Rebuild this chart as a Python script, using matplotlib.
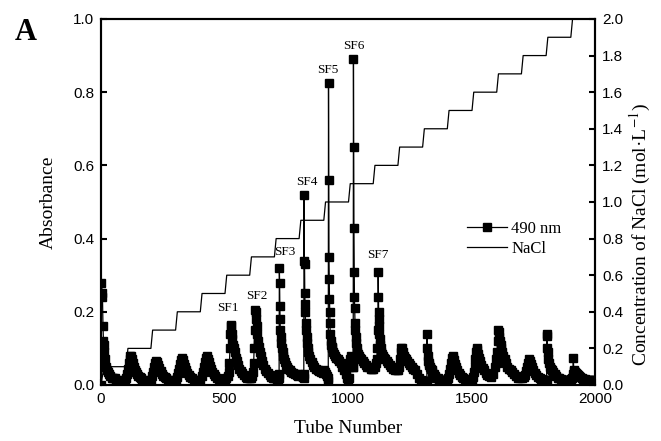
import matplotlib
matplotlib.use("Agg")
import matplotlib.pyplot as plt
from matplotlib.lines import Line2D

# ---------------- data ----------------
# Absorbance at 490 nm, one line per eluted fraction window
tubes = (
    [0, 2, 4, 6, 8, 10, 12, 14, 17, 20, 24, 28, 33, 38, 44, 50, 56, 62, 68, 74, 80, 86, 92, 98]
    + [102, 106, 110, 113, 116, 119, 122, 125, 128, 132, 136, 140, 145, 150, 156, 162, 168, 175, 182, 190, 198]
    + [202, 207, 212, 216, 220, 224, 228, 232, 236, 241, 246, 252, 258, 265, 272, 280, 288, 296]
    + [302, 307, 312, 316, 320, 324, 328, 332, 336, 340, 345, 350, 356, 362, 369, 376, 384, 392, 398]
    + [402, 407, 412, 416, 420, 424, 428, 432, 436, 440, 445, 450, 456, 462, 469, 476, 484, 492, 498]
    + [503, 508, 513, 517, 520, 522, 524, 526, 528, 530, 532, 535, 538, 541, 545, 549, 554, 559, 565, 571, 578, 585, 592, 599]
    + [603, 608, 612, 615, 618, 620, 622, 624, 626, 628, 630, 633, 636, 639, 643, 647, 652, 657, 663, 669, 676, 683, 690, 697]
    + [702, 707, 712, 716, 719, 721, 722, 723, 724, 725, 726, 728, 730, 732, 735, 738, 741, 745, 749, 754, 759, 765, 771, 778, 785, 792, 799]
    + [803, 808, 813, 817, 820, 821, 822, 823, 824, 825, 826, 827, 828, 830, 832, 834, 837, 840, 844, 848, 853, 858, 864, 870, 877, 884, 891, 898]
    + [902, 907, 912, 916, 919, 920, 921, 922, 923, 924, 925, 926, 927, 928, 930, 932, 934, 937, 940, 944, 948, 953, 958, 964, 970, 977, 984, 990, 995, 999]
    + [1002, 1006, 1010, 1014, 1018, 1020, 1021, 1022, 1023, 1024, 1025, 1026, 1027, 1028, 1029, 1031, 1033, 1035, 1038, 1041, 1045, 1049, 1054, 1059, 1065, 1071, 1078, 1085, 1092, 1099]
    + [1103, 1108, 1112, 1116, 1119, 1121, 1122, 1123, 1124, 1125, 1126, 1127, 1128, 1130, 1132, 1135, 1138, 1142, 1146, 1151, 1156, 1162, 1168, 1175, 1182, 1190, 1198]
    + [1202, 1206, 1210, 1213, 1216, 1219, 1222, 1226, 1230, 1235, 1240, 1246, 1252, 1258, 1265, 1272, 1280, 1288, 1296]
    + [1300, 1305, 1310, 1314, 1317, 1319, 1320, 1321, 1322, 1324, 1326, 1328, 1331, 1334, 1338, 1342, 1347, 1352, 1358, 1364, 1370, 1377, 1384, 1391, 1398]
    + [1402, 1406, 1410, 1414, 1418, 1421, 1424, 1427, 1430, 1434, 1438, 1443, 1448, 1454, 1460, 1467, 1474, 1482, 1490, 1497]
    + [1501, 1505, 1509, 1513, 1516, 1519, 1521, 1524, 1527, 1531, 1535, 1540, 1545, 1551, 1557, 1564, 1571, 1578, 1586, 1594, 1600]
    + [1602, 1604, 1606, 1608, 1610, 1612, 1615, 1618, 1621, 1625, 1629, 1634, 1639, 1645, 1651, 1658, 1665, 1672, 1680, 1688, 1696, 1704, 1712]
    + [1716, 1720, 1724, 1728, 1732, 1736, 1740, 1745, 1750, 1756, 1762, 1769, 1776, 1783, 1790, 1796, 1800]
    + [1803, 1804, 1805, 1806, 1807, 1808, 1810, 1813, 1816, 1820, 1825, 1830, 1836, 1842, 1849, 1856, 1864, 1872, 1880, 1888, 1896]
    + [1900, 1904, 1908, 1910, 1912, 1914, 1916, 1919, 1922, 1926, 1930, 1935, 1940, 1946, 1952, 1958, 1965, 1972, 1979, 1986, 1993, 1999]
)
absorbance = (
    [0.0, 0.28, 0.25, 0.24, 0.16, 0.12, 0.11, 0.09, 0.07, 0.05, 0.04, 0.035, 0.03, 0.025, 0.02, 0.02, 0.018, 0.015, 0.015, 0.012, 0.012, 0.012, 0.012, 0.015]
    + [0.02, 0.03, 0.045, 0.06, 0.072, 0.08, 0.078, 0.07, 0.06, 0.05, 0.042, 0.036, 0.03, 0.025, 0.021, 0.018, 0.015, 0.013, 0.012, 0.012, 0.012]
    + [0.015, 0.025, 0.035, 0.048, 0.06, 0.066, 0.062, 0.055, 0.046, 0.038, 0.031, 0.025, 0.021, 0.018, 0.015, 0.013, 0.012, 0.012]
    + [0.015, 0.022, 0.032, 0.045, 0.058, 0.068, 0.074, 0.068, 0.058, 0.048, 0.04, 0.033, 0.027, 0.022, 0.018, 0.015, 0.013, 0.012, 0.012]
    + [0.015, 0.025, 0.035, 0.05, 0.062, 0.073, 0.08, 0.072, 0.062, 0.052, 0.043, 0.036, 0.03, 0.025, 0.02, 0.017, 0.015, 0.014, 0.014]
    + [0.015, 0.02, 0.025, 0.035, 0.06, 0.1, 0.14, 0.165, 0.16, 0.14, 0.125, 0.11, 0.1, 0.09, 0.075, 0.065, 0.055, 0.045, 0.038, 0.032, 0.027, 0.022, 0.02, 0.018]
    + [0.018, 0.02, 0.025, 0.035, 0.06, 0.1, 0.15, 0.205, 0.2, 0.18, 0.16, 0.14, 0.12, 0.105, 0.09, 0.078, 0.065, 0.055, 0.045, 0.038, 0.032, 0.027, 0.022, 0.02]
    + [0.02, 0.018, 0.016, 0.015, 0.02, 0.03, 0.32, 0.28, 0.215, 0.18, 0.15, 0.13, 0.115, 0.1, 0.09, 0.08, 0.07, 0.062, 0.055, 0.05, 0.045, 0.04, 0.035, 0.032, 0.03, 0.028, 0.025]
    + [0.03, 0.028, 0.025, 0.022, 0.02, 0.03, 0.52, 0.34, 0.33, 0.25, 0.22, 0.2, 0.17, 0.15, 0.13, 0.115, 0.1, 0.09, 0.08, 0.07, 0.062, 0.055, 0.05, 0.045, 0.04, 0.038, 0.035, 0.032]
    + [0.04, 0.035, 0.03, 0.025, 0.02, 0.01, 0.825, 0.56, 0.35, 0.29, 0.235, 0.2, 0.17, 0.14, 0.12, 0.11, 0.105, 0.1, 0.09, 0.085, 0.08, 0.075, 0.07, 0.065, 0.06, 0.05, 0.04, 0.03, 0.02, 0.0]
    + [0.02, 0.05, 0.07, 0.08, 0.06, 0.05, 0.05, 0.89, 0.65, 0.43, 0.31, 0.24, 0.21, 0.17, 0.15, 0.13, 0.115, 0.1, 0.09, 0.085, 0.08, 0.075, 0.07, 0.065, 0.06, 0.055, 0.05, 0.05, 0.045, 0.045]
    + [0.045, 0.05, 0.06, 0.07, 0.1, 0.15, 0.31, 0.24, 0.2, 0.18, 0.16, 0.14, 0.125, 0.11, 0.1, 0.09, 0.085, 0.08, 0.075, 0.07, 0.065, 0.06, 0.055, 0.05, 0.045, 0.04, 0.04]
    + [0.04, 0.05, 0.07, 0.09, 0.1, 0.1, 0.09, 0.08, 0.075, 0.07, 0.065, 0.06, 0.055, 0.05, 0.045, 0.04, 0.03, 0.02, 0.015]
    + [0.012, 0.012, 0.012, 0.012, 0.012, 0.012, 0.14, 0.1, 0.08, 0.065, 0.06, 0.055, 0.05, 0.045, 0.04, 0.035, 0.03, 0.025, 0.02, 0.018, 0.015, 0.015, 0.014, 0.014, 0.014]
    + [0.015, 0.02, 0.03, 0.045, 0.06, 0.075, 0.08, 0.075, 0.068, 0.058, 0.048, 0.04, 0.034, 0.028, 0.023, 0.019, 0.016, 0.015, 0.014, 0.014]
    + [0.015, 0.022, 0.035, 0.05, 0.07, 0.09, 0.1, 0.095, 0.085, 0.075, 0.065, 0.055, 0.047, 0.04, 0.034, 0.028, 0.024, 0.022, 0.03, 0.05, 0.07]
    + [0.06, 0.09, 0.12, 0.15, 0.145, 0.13, 0.12, 0.11, 0.1, 0.09, 0.08, 0.07, 0.06, 0.05, 0.045, 0.04, 0.035, 0.03, 0.025, 0.02, 0.018, 0.018, 0.022]
    + [0.028, 0.038, 0.05, 0.06, 0.07, 0.066, 0.058, 0.048, 0.04, 0.032, 0.027, 0.022, 0.018, 0.016, 0.014, 0.013, 0.013]
    + [0.013, 0.013, 0.14, 0.135, 0.1, 0.09, 0.07, 0.06, 0.05, 0.045, 0.04, 0.035, 0.03, 0.025, 0.02, 0.018, 0.016, 0.015, 0.014, 0.014, 0.014]
    + [0.014, 0.016, 0.02, 0.03, 0.075, 0.04, 0.038, 0.035, 0.032, 0.03, 0.027, 0.024, 0.021, 0.019, 0.017, 0.016, 0.015, 0.014, 0.013, 0.013, 0.013, 0.013]
)

# NaCl step gradient (mol/L) on the right axis
nacl_tube = [0, 12, 102, 109, 202, 209, 302, 309, 402, 409, 502, 509, 602, 609, 702, 709,
             802, 809, 902, 909, 1002, 1009, 1102, 1109, 1202, 1209, 1302, 1309, 1402, 1409,
             1502, 1509, 1602, 1609, 1702, 1709, 1802, 1809, 1902, 1909, 2000]
nacl_conc = [0.0, 0.1, 0.1, 0.2, 0.2, 0.3, 0.3, 0.4, 0.4, 0.5, 0.5, 0.6, 0.6, 0.7, 0.7, 0.8,
             0.8, 0.9, 0.9, 1.0, 1.0, 1.1, 1.1, 1.2, 1.2, 1.3, 1.3, 1.4, 1.4, 1.5,
             1.5, 1.6, 1.6, 1.7, 1.7, 1.8, 1.8, 1.9, 1.9, 2.0, 2.0]

# fraction labels
frac_names = ["SF1", "SF2", "SF3", "SF4", "SF5", "SF6", "SF7"]
frac_x = [515, 630, 745, 833, 919, 1024, 1121]
frac_y = [0.211, 0.244, 0.363, 0.555, 0.861, 0.926, 0.355]

x_ticks = [0, 500, 1000, 1500, 2000]
left_ticks = [0.0, 0.2, 0.4, 0.6, 0.8, 1.0]
right_ticks = [0.0, 0.2, 0.4, 0.6, 0.8, 1.0, 1.2, 1.4, 1.6, 1.8, 2.0]

# ---------------- drawing ----------------
serif = ["Liberation Serif", "DejaVu Serif"]
sans = ["Liberation Sans", "DejaVu Sans"]
plt.rcParams["mathtext.fontset"] = "stix"

fig = plt.figure(figsize=(6.61, 4.41), dpi=100)
ax = fig.add_axes([0.1528, 0.127, 0.7474, 0.830])
ax2 = ax.twinx()

ax.plot(tubes, absorbance, color="black", lw=0.9, marker="s", ms=5.5,
        mec="black", mfc="black", zorder=3)
ax2.plot(nacl_tube, nacl_conc, color="black", lw=0.9)

ax.set_xlim(0, 2000)
ax.set_ylim(0, 1.0)
ax2.set_ylim(0, 2.0)
ax.set_xticks(x_ticks)
ax.set_yticks(left_ticks)
ax2.set_yticks(right_ticks)
ax.set_xticklabels([str(t) for t in x_ticks], family=sans, fontsize=11)
ax.set_yticklabels([f"{t:.1f}" for t in left_ticks], family=sans, fontsize=11)
ax2.set_yticklabels([f"{t:.1f}" for t in right_ticks], family=sans, fontsize=11)

for a in (ax, ax2):
    for s in a.spines.values():
        s.set_linewidth(1.5)
ax.tick_params(axis="both", direction="in", length=4.5, width=1.5, pad=5)
ax2.tick_params(axis="y", direction="in", length=4.5, width=1.5, pad=5)

for name, fx, fy in zip(frac_names, frac_x, frac_y):
    ax.text(fx, fy, name, ha="center", va="center", fontsize=9.5, family=serif)

ax.set_xlabel("Tube Number", family=serif, fontsize=14)
ax.set_ylabel("Absorbance", family=serif, fontsize=14)
ax2.set_ylabel("Concentration of NaCl (mol·L$^{-1}$)", family=serif, fontsize=14)
ax.xaxis.set_label_coords(0.5, -0.118)
ax.xaxis.label.set_va("center")
ax.yaxis.set_label_coords(-0.107, 0.5)
ax.yaxis.label.set_va("center")
ax2.yaxis.set_label_coords(1.091, 0.41)
ax2.yaxis.label.set_va("center")

handles = [Line2D([], [], color="black", lw=0.9, marker="s", ms=5.5, markevery=[1]),
           Line2D([], [], color="black", lw=0.9)]
leg = ax2.legend(handles, ["490 nm", "NaCl"], loc="center left",
                 bbox_to_anchor=(0.741, 0.399), frameon=False, borderpad=0,
                 borderaxespad=0, handlelength=2.4, handletextpad=0.25,
                 labelspacing=0.25, prop={"family": serif, "size": 12})

fig.text(26 / 661, 1 - 32 / 441, "A", fontsize=22, fontweight="bold",
         family=serif, ha="center", va="center")

fig.savefig("out.png", dpi=100)
